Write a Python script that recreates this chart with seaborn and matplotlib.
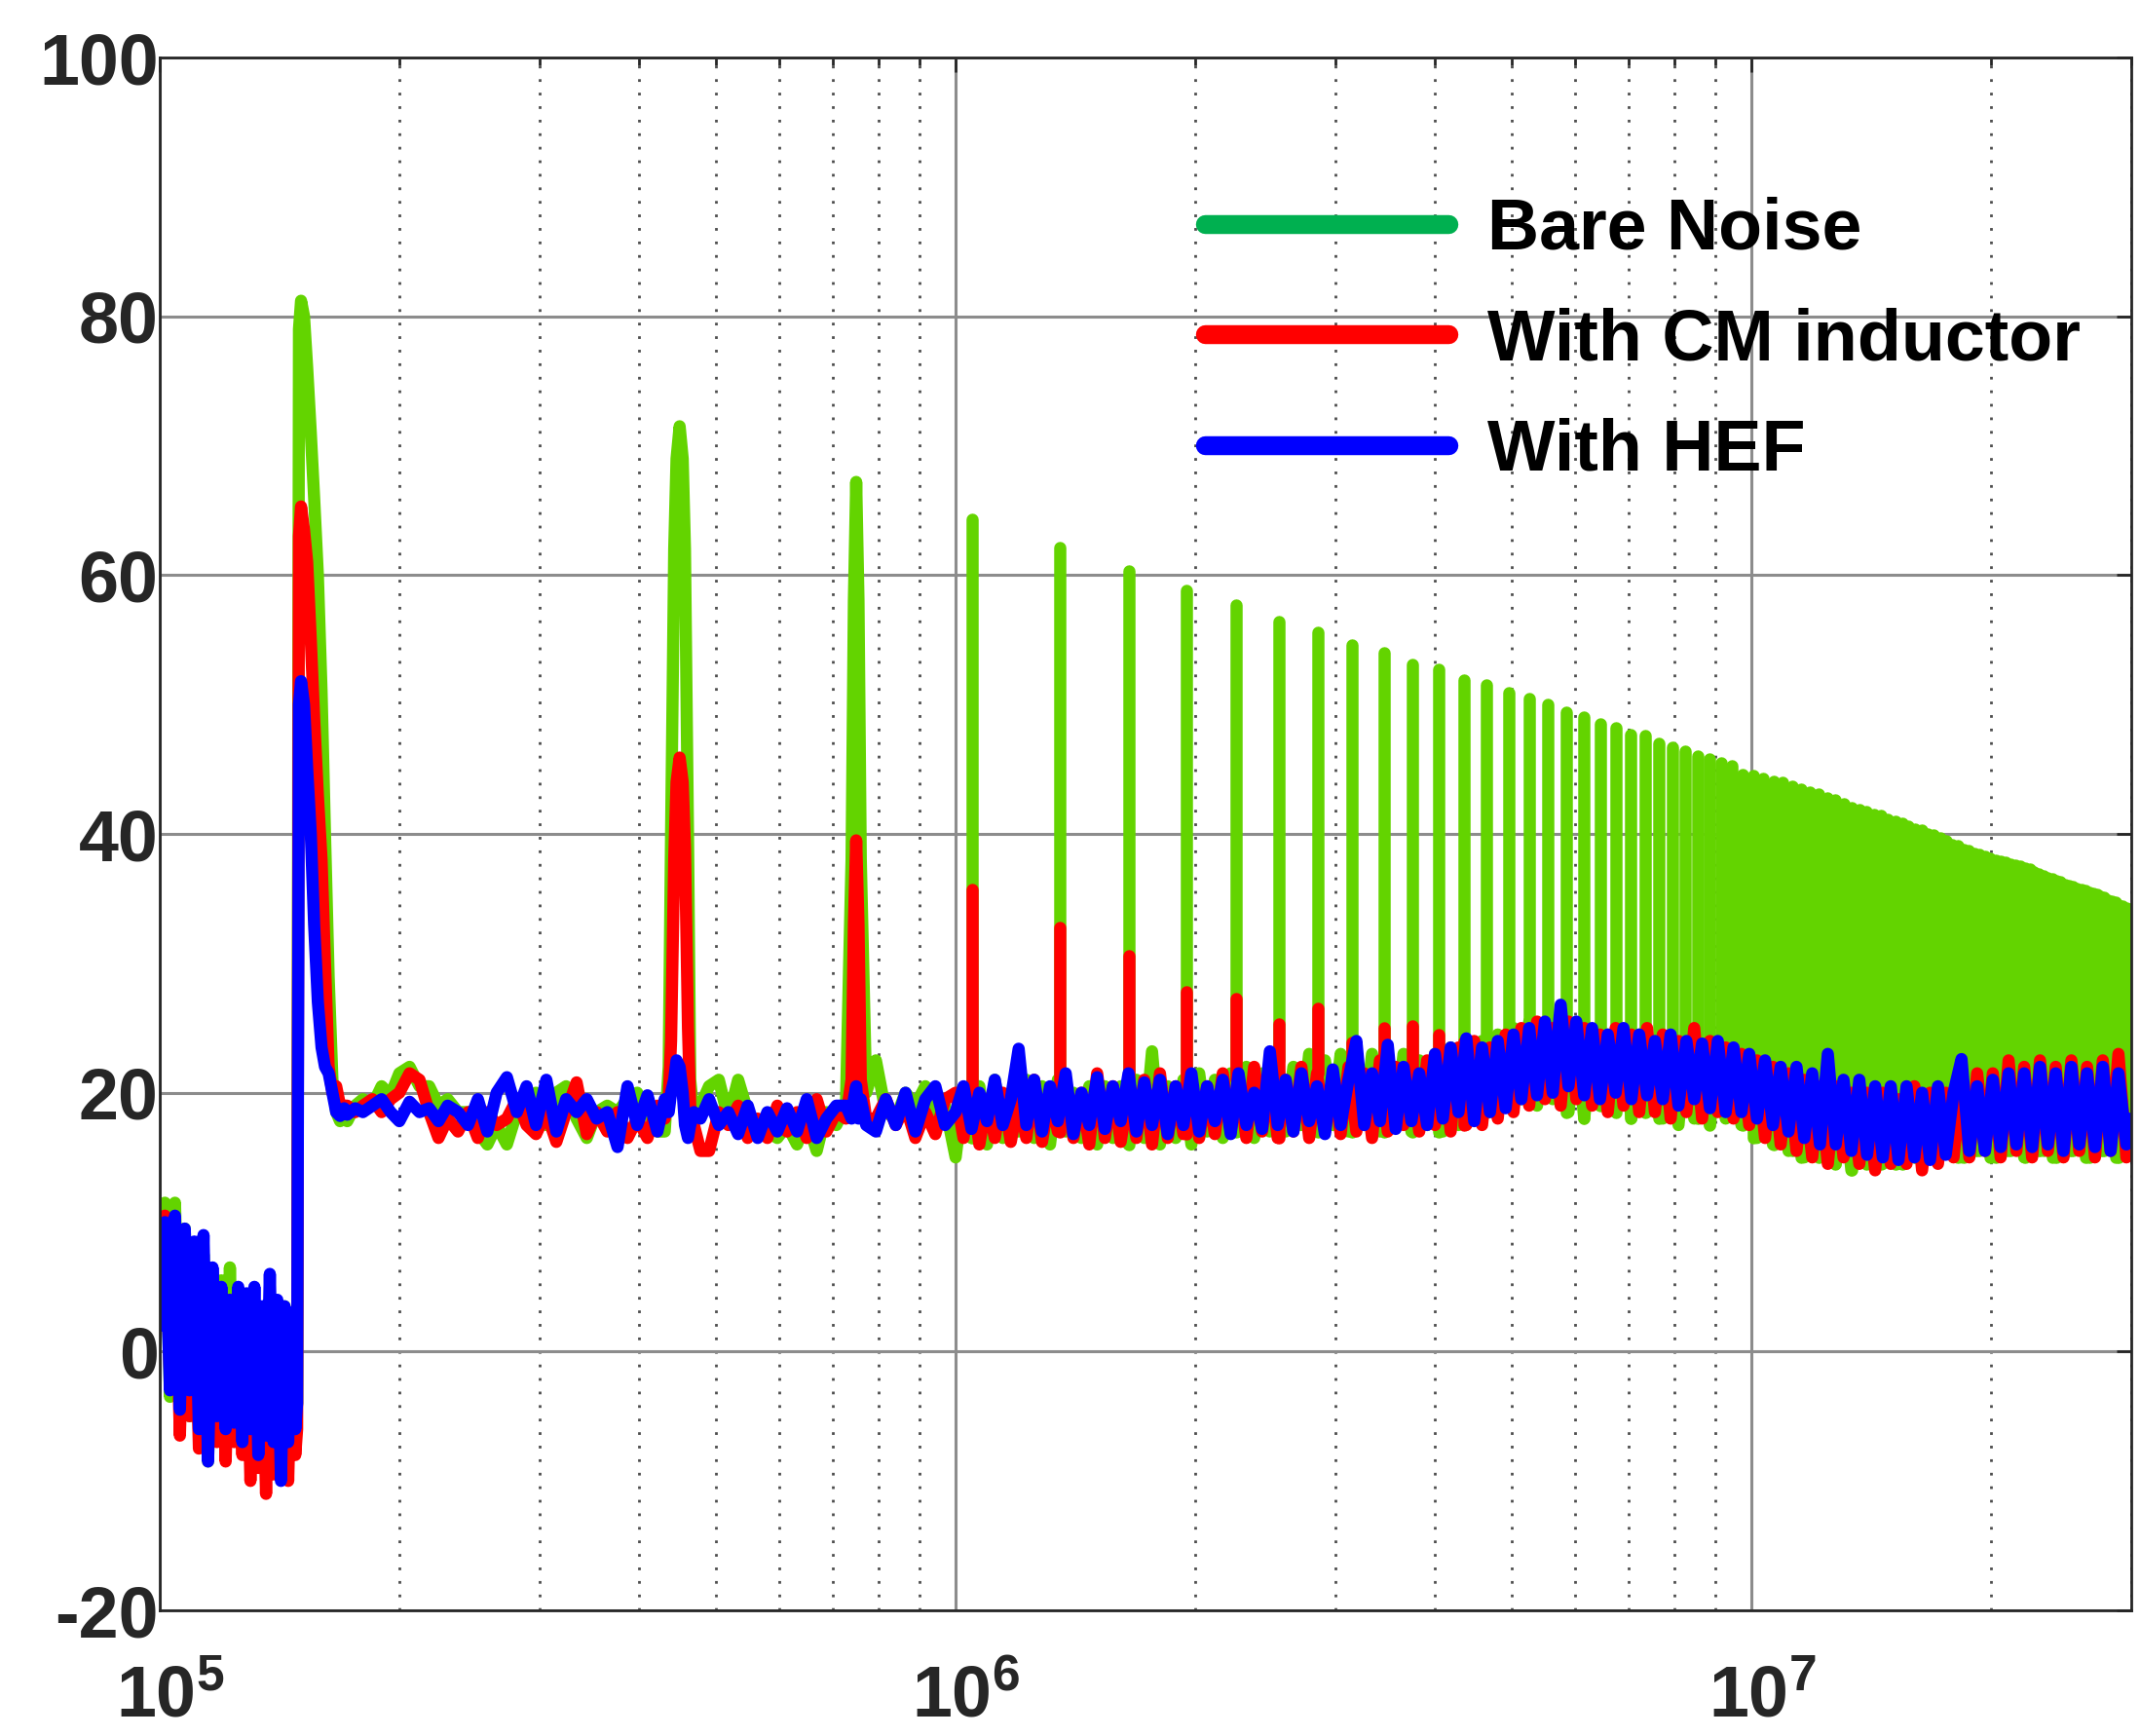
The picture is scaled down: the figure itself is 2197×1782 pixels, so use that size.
import numpy as np
import pandas as pd
import matplotlib
matplotlib.use('Agg')
import matplotlib.pyplot as plt
import matplotlib.transforms as mtransforms
from matplotlib.lines import Line2D
from matplotlib.ticker import FixedLocator, FixedFormatter, LogLocator, NullFormatter
import seaborn as sns

sns.set_theme(style="white")
plt.rcParams['font.family'] = ['Liberation Sans', 'DejaVu Sans']
plt.rcParams.update({
    'font.weight': 'bold',
    'axes.unicode_minus': False,
    'mathtext.fontset': 'custom',
    'mathtext.rm': 'Liberation Sans:bold',
    'mathtext.it': 'Liberation Sans:bold',
    'mathtext.bf': 'Liberation Sans:bold',
    'lines.solid_joinstyle': 'round',
    'lines.solid_capstyle': 'round',
})

# ---- data (dBuV) ----
series_names = ['Bare Noise', 'With CM inductor', 'With HEF']

# 100 - 170 kHz : noisy band below the switching frequency + the 150 kHz line
f_low_khz = [100.0, 101.5, 103.0, 104.5, 106.0, 107.5, 109.0, 110.5, 112.0, 113.5,
             115.0, 116.5, 118.0, 119.5, 121.0, 122.5, 124.0, 125.5, 127.0, 128.5,
             130.0, 131.5, 133.0, 134.5, 136.0, 137.5, 139.0, 140.5, 142.0, 143.5,
             145.0, 146.5, 148.0, 148.8, 149.6, 150.5, 151.8, 153.2, 154.8, 156.3,
             158.0, 159.7, 161.3, 163.0, 164.8, 166.6, 168.5, 170.5]
bare_low = [6, 11.5, -3.5, 11.5, -3, 9.5, -5, 8, -6, 7.5,
            -8.5, 6, -6, 5.5, -7, 6.5, -5, 4, -6, 4,
            -7, 3.5, -6, 3, -7, 4, -7, 3, -8, 3.5,
            -6, 2, -5, -4, 79, 81.2, 80, 76, 71, 66,
            60, 51, 40, 29, 21, 18.5, 17.8, 18.5]
cm_low = [4, 10.5, -2, 8, -6.5, 7, -5, 6, -7.5, 5,
          -6, 4, -7, 3, -8.5, 4, -7, 2.5, -8, 3,
          -10, 2, -9, 1, -11, 2, -9.5, 1.5, -9, 2.5,
          -10, 1, -8, -6, 63, 65.3, 63.5, 61, 55, 49,
          43, 38, 30, 22, 20, 20.5, 19, 19]
hef_low = [2, 10, -3, 10.5, -4.5, 9.5, -3, 8.5, -6, 9,
           -8.5, 6.5, -5, 5, -6, 4, -5.5, 5, -7, 4.5,
           -6, 5, -8, 3.5, -6.5, 6, -7, 4, -10, 3.5,
           -7, 3, -6, -4, 50, 51.8, 50, 45, 40, 33,
           27, 23.5, 22, 21.5, 20, 18.5, 18.2, 18.8]

# 172 - 970 kHz : floor with the 450 kHz and 750 kHz lines
f_mid_khz = [172, 176, 180, 185, 190, 195, 200, 206, 212, 218,
             224, 230, 237, 244, 251, 258, 265, 273, 281, 289,
             297, 306, 315, 324, 334, 344, 354, 365, 376, 387,
             398, 410, 422,
             431, 436, 439, 443, 446, 450, 454, 457, 461, 464, 469,
             478, 490, 504, 518, 533, 548, 564, 580, 597, 614,
             632, 650, 669, 688, 708, 728,
             740, 745, 750, 755, 760, 772,
             794, 817, 841, 865, 890, 916, 943, 970]
bare_mid = [17.8, 19.0, 19.5, 19.0, 20.5, 19.8, 21.5, 22.0, 20.5, 20.5,
            19.0, 19.5, 18.5, 18.5, 17.0, 16.0, 17.5, 16.0, 18.5, 19.5,
            20.0, 17.5, 20.0, 20.5, 18.0, 16.5, 18.5, 19.0, 18.5, 19.5,
            20.0, 18.5, 17.0,
            17.0, 22.0, 40.0, 62.0, 69.0, 71.5, 69.0, 62.0, 40.0, 21.0, 18.0,
            19.0, 20.5, 21.0, 18.0, 21.0, 18.5, 17.5, 17.0, 16.5, 17.5,
            16.0, 18.0, 15.5, 18.5, 17.5, 19.0,
            38.0, 58.0, 67.2, 58.0, 38.0, 20.0,
            22.5, 18.5, 18.0, 20.0, 19.0, 20.5, 17.5, 19.0]
cm_mid = [19.0, 18.5, 19.0, 19.5, 18.5, 19.5, 20.0, 21.5, 21.0, 18.5,
          16.5, 18.0, 17.0, 18.5, 16.5, 18.5, 17.5, 18.0, 19.5, 17.5,
          16.8, 18.5, 16.2, 18.5, 20.8, 16.8, 18.5, 17.0, 18.5, 16.5,
          18.0, 16.5, 19.0,
          18.0, 19.5, 24.0, 38.0, 44.0, 45.9, 44.0, 39.0, 25.0, 19.0, 17.5,
          15.5, 15.5, 18.5, 17.5, 19.0, 16.5, 18.0, 16.5, 19.0, 17.0,
          18.5, 16.5, 19.5, 17.0, 18.5, 18.0,
          21.0, 33.0, 39.5, 33.0, 21.0, 18.0,
          18.0, 19.5, 17.5, 19.0, 16.5, 18.5, 16.8, 19.5]
hef_mid = [18.3, 18.8, 18.5, 19.0, 19.5, 18.5, 17.8, 19.3, 18.5, 18.8,
           17.8, 19.0, 18.5, 17.5, 19.5, 17.0, 20.0, 21.2, 18.5, 20.5,
           17.5, 21.0, 17.0, 19.5, 18.5, 19.5, 18.0, 18.5, 15.8, 20.5,
           17.5, 19.8, 17.0,
           19.5, 18.5, 20.0, 21.0, 22.5, 22.0, 20.0, 17.5, 16.5, 17.5, 18.5,
           18.0, 19.5, 17.5, 18.5, 16.8, 19.0, 16.5, 18.5, 17.0, 18.8,
           17.0, 19.5, 16.5, 18.0, 19.0, 19.0,
           18.0, 19.5, 20.5, 18.0, 19.5, 17.5,
           17.0, 19.5, 17.5, 20.0, 17.0, 19.5, 20.5, 17.5]

# 1 - 30 MHz : noise floor
f_high_mhz = [1.000, 1.023, 1.047, 1.071, 1.095, 1.120, 1.146, 1.173, 1.200, 1.227,
              1.255, 1.284, 1.314, 1.344, 1.375, 1.406, 1.439, 1.472, 1.506, 1.540,
              1.576, 1.612, 1.649, 1.687, 1.726, 1.765, 1.806, 1.847, 1.890, 1.933,
              1.978, 2.023, 2.070, 2.117, 2.166, 2.216, 2.267, 2.319, 2.372, 2.427,
              2.482, 2.539, 2.598, 2.657, 2.719, 2.781, 2.845, 2.911, 2.978, 3.046,
              3.116, 3.188, 3.261, 3.336, 3.413, 3.491, 3.572, 3.654, 3.738, 3.824,
              3.912, 4.002, 4.094, 4.188, 4.284, 4.382, 4.483, 4.586, 4.692, 4.799,
              4.910, 5.023, 5.138, 5.256, 5.377, 5.501, 5.627, 5.757, 5.889, 6.024,
              6.163, 6.305, 6.450, 6.598, 6.750, 6.905, 7.064, 7.226, 7.392, 7.562,
              7.736, 7.914, 8.096, 8.283, 8.473, 8.668, 8.867, 9.071, 9.280, 9.493,
              9.712, 9.935, 10.16, 10.40, 10.64, 10.88, 11.13, 11.39, 11.65, 11.92,
              12.19, 12.47, 12.76, 13.05, 13.35, 13.66, 13.97, 14.30, 14.62, 14.96,
              15.30, 15.66, 16.02, 16.38, 16.76, 17.15, 17.54, 17.94, 18.36, 18.78,
              19.21, 19.65, 20.10, 20.56, 21.04, 21.52, 22.01, 22.52, 23.04, 23.57,
              24.11, 24.66, 25.23, 25.81, 26.40, 27.01, 27.63, 28.26, 28.91, 29.58,
              30.0]
bare_high = [15.0, 20.0, 16.5, 20.5, 16.0, 21.0, 16.5, 20.0, 17.0, 21.0,
             16.5, 20.5, 16.0, 21.0, 17.0, 20.0, 16.5, 20.5, 16.0, 20.5,
             16.5, 20.5, 16.0, 21.0, 16.5, 23.2, 16.0, 20.5, 16.5, 21.0,
             16.0, 21.5, 17.0, 21.0, 16.5, 21.5, 17.0, 22.0, 16.5, 21.5,
             17.0, 22.5, 17.0, 22.0, 17.5, 23.0, 17.0, 22.5, 17.5, 23.0,
             17.0, 22.0, 17.5, 23.0, 17.0, 22.5, 17.5, 23.0, 17.0, 22.5,
             17.5, 23.0, 17.0, 23.5, 17.5, 23.0, 18.0, 24.0, 18.5, 24.5,
             19.0, 25.0, 19.5, 25.5, 19.0, 24.5, 19.5, 25.0, 18.5, 24.5,
             18.0, 24.0, 19.0, 24.5, 18.5, 24.0, 18.0, 24.5, 18.5, 23.5,
             18.0, 23.5, 17.5, 24.0, 18.0, 23.0, 17.5, 23.5, 18.0, 23.0,
             17.5, 22.5, 16.5, 22.0, 16.0, 21.5, 15.5, 21.0, 15.0, 20.5,
             15.0, 20.0, 14.5, 20.0, 14.0, 19.5, 14.5, 20.0, 14.5, 19.5,
             14.5, 20.0, 15.0, 20.5, 15.0, 20.0, 15.5, 21.0, 15.0, 21.0,
             15.5, 21.5, 15.0, 22.0, 15.5, 21.5, 15.0, 22.0, 15.5, 21.5,
             15.0, 22.0, 15.5, 21.5, 15.0, 22.0, 15.5, 21.5, 15.0, 22.0,
             18.0]
cm_high = [20.0, 16.5, 20.5, 16.0, 19.5, 16.5, 20.0, 16.2, 19.5, 16.5,
           21.0, 16.2, 20.0, 17.0, 21.0, 16.5, 20.0, 16.0, 21.5, 16.5,
           20.5, 16.2, 20.0, 16.5, 21.0, 16.0, 21.5, 16.5, 20.5, 16.8,
           21.0, 16.5, 20.5, 16.8, 21.5, 17.0, 21.0, 16.5, 22.0, 17.0,
           21.5, 16.5, 21.0, 17.0, 22.0, 16.5, 21.5, 17.0, 21.0, 16.8,
           22.0, 17.0, 21.5, 16.5, 22.5, 17.0, 22.0, 17.5, 21.5, 17.0,
           22.5, 17.5, 23.0, 17.0, 23.5, 17.5, 24.0, 17.5, 23.5, 18.0,
           24.5, 18.5, 25.0, 19.0, 25.5, 19.5, 25.0, 19.0, 25.5, 19.5,
           25.0, 19.0, 24.5, 18.5, 25.0, 19.0, 24.5, 18.5, 25.0, 18.5,
           24.5, 18.0, 24.0, 18.5, 25.0, 18.0, 24.0, 18.5, 23.5, 18.0,
           23.0, 17.5, 22.5, 16.5, 22.0, 16.0, 21.5, 15.5, 21.0, 15.0,
           20.5, 14.5, 20.5, 15.0, 20.0, 14.5, 20.0, 14.0, 20.0, 14.5,
           19.5, 14.5, 20.5, 14.0, 20.0, 14.5, 20.0, 15.0, 21.0, 15.0,
           21.5, 15.5, 21.5, 15.0, 22.5, 15.5, 22.0, 15.0, 22.5, 15.5,
           22.0, 15.0, 22.5, 15.5, 22.0, 15.0, 22.5, 15.5, 23.0, 15.0,
           16.0]
hef_high = [18.5, 20.5, 17.2, 20.0, 17.8, 21.0, 17.5, 19.5, 23.4, 17.5,
            21.0, 17.0, 20.5, 17.8, 21.5, 16.8, 20.0, 17.5, 21.2, 17.2,
            20.5, 17.8, 21.5, 17.0, 20.8, 17.5, 21.0, 16.8, 20.5, 17.5,
            21.5, 17.0, 20.5, 17.8, 21.0, 16.8, 21.5, 17.5, 20.0, 17.2,
            23.2, 17.5, 21.0, 17.0, 21.5, 17.8, 20.5, 16.8, 21.8, 17.5,
            21.0, 24.0, 17.5, 21.5, 17.8, 23.7, 17.2, 22.0, 17.8, 21.5,
            17.5, 23.0, 18.0, 23.5, 18.5, 24.2, 17.8, 23.5, 18.5, 24.0,
            18.8, 24.5, 19.5, 25.0, 19.8, 25.5, 20.0, 26.8, 20.5, 25.5,
            19.8, 25.0, 19.5, 24.5, 20.0, 25.0, 19.5, 24.5, 19.8, 24.0,
            19.5, 24.5, 19.0, 24.0, 19.5, 23.8, 18.8, 24.0, 18.5, 23.5,
            18.5, 23.0, 18.0, 22.5, 17.5, 22.0, 17.0, 22.0, 16.5, 21.5,
            16.0, 23.0, 16.0, 21.0, 15.5, 21.0, 15.2, 20.5, 15.0, 20.5,
            14.8, 20.5, 15.0, 20.0, 14.8, 20.5, 15.2, 20.0, 22.6, 15.5,
            20.5, 15.5, 21.0, 15.8, 21.5, 16.0, 21.5, 15.8, 22.0, 16.0,
            21.5, 15.5, 22.0, 16.0, 21.5, 15.8, 22.0, 15.5, 21.5, 16.0,
            18.0]

# odd harmonics of the 150 kHz switching frequency above 1 MHz (narrow lines)
harmonic_mhz = [1.05, 1.35, 1.65, 1.95, 2.25, 2.55, 2.85, 3.15, 3.45, 3.75,
                4.05, 4.35, 4.65, 4.95, 5.25, 5.55, 5.85, 6.15, 6.45, 6.75,
                7.05, 7.35, 7.65, 7.95, 8.25, 8.55, 8.85, 9.15, 9.45, 9.75,
                10.05, 10.35, 10.65, 10.95, 11.25, 11.55, 11.85, 12.15, 12.45, 12.75,
                13.05, 13.35, 13.65, 13.95, 14.25, 14.55, 14.85, 15.15, 15.45, 15.75,
                16.05, 16.35, 16.65, 16.95, 17.25, 17.55, 17.85, 18.15, 18.45, 18.75,
                19.05, 19.35, 19.65, 19.95, 20.25, 20.55, 20.85, 21.15, 21.45, 21.75,
                22.05, 22.35, 22.65, 22.95, 23.25, 23.55, 23.85, 24.15, 24.45, 24.75,
                25.05, 25.35, 25.65, 25.95, 26.25, 26.55, 26.85, 27.15, 27.45, 27.75,
                28.05, 28.35, 28.65, 28.95, 29.25, 29.55, 29.85]
bare_peaks = [64.3, 62.1, 60.3, 58.8, 57.7, 56.4, 55.6, 54.6, 54.0, 53.1,
              52.7, 51.9, 51.5, 50.9, 50.5, 50.0, 49.4, 49.0, 48.5, 48.2,
              47.7, 47.6, 47.0, 46.7, 46.4, 46.0, 45.8, 45.5, 45.3, 44.6,
              44.5, 44.3, 44.1, 44.0, 43.7, 43.5, 43.2, 43.1, 42.8, 42.6,
              42.3, 42.0, 41.9, 41.7, 41.5, 41.4, 41.1, 41.0, 40.8, 40.6,
              40.4, 40.3, 40.0, 39.9, 39.7, 39.5, 39.2, 39.1, 38.8, 38.7,
              38.5, 38.4, 38.3, 38.1, 38.0, 37.9, 37.8, 37.7, 37.6, 37.5,
              37.4, 37.3, 37.1, 36.9, 36.8, 36.6, 36.5, 36.4, 36.3, 36.1,
              36.0, 35.9, 35.8, 35.7, 35.6, 35.5, 35.4, 35.3, 35.2, 35.1,
              34.9, 34.8, 34.7, 34.5, 34.4, 34.3, 34.2]
cm_peaks = [35.7, 32.8, 30.6, 27.8, 27.3, 25.3, 26.5, 23.9, 25.0, 25.2, 24.5, 24.0]

trace_colors = ['#63d400', '#ff0000', '#0000ff']
legend_colors = ['#00b050', '#ff0000', '#0000ff']
LW = 9.0

freq_hz = np.concatenate([np.array(f_low_khz) * 1e3,
                          np.array(f_mid_khz) * 1e3,
                          np.array(f_high_mhz) * 1e6])
levels = {
    'Bare Noise': np.concatenate([bare_low, bare_mid, bare_high]),
    'With CM inductor': np.concatenate([cm_low, cm_mid, cm_high]),
    'With HEF': np.concatenate([hef_low, hef_mid, hef_high]),
}
df = pd.concat([pd.DataFrame({'freq': freq_hz, 'level': levels[s], 'series': s})
                for s in series_names], ignore_index=True)
harm_hz = np.array(harmonic_mhz) * 1e6


def spike_base(h, lev):
    # floor under each line = nearest measured floor sample
    idx = np.abs(np.log(freq_hz)[:, None] - np.log(h)[None, :]).argmin(axis=0)
    return lev[idx]


fig = plt.figure(figsize=(21.97, 17.82), dpi=100)
ax = fig.add_axes([0.07465, 0.07239, 0.92126, 0.8945])
ax.set_xscale('log')

spikes = {'Bare Noise': bare_peaks, 'With CM inductor': cm_peaks}
for name, col in zip(series_names, trace_colors):
    sub = df[df.series == name]
    sns.lineplot(data=sub, x='freq', y='level', color=col, linewidth=LW,
                 estimator=None, sort=False, ax=ax, legend=False)
    if name in spikes:
        pk = np.array(spikes[name])
        h = harm_hz[:len(pk)]
        ax.vlines(h, spike_base(h, levels[name]), pk, colors=col,
                  linewidth=LW, capstyle='round')

ax.set_xlim(1e5, 3e7)
ax.set_ylim(-20, 100)
ax.set_yticks(range(-20, 101, 20))
ax.xaxis.set_major_locator(FixedLocator([1e5, 1e6, 1e7]))
ax.xaxis.set_major_formatter(FixedFormatter([r'$10^{5}$', r'$10^{6}$', r'$10^{7}$']))
ax.xaxis.set_minor_locator(LogLocator(base=10, subs=np.arange(2, 10), numticks=20))
ax.xaxis.set_minor_formatter(NullFormatter())
ax.set_xlabel('')
ax.set_ylabel('')

ax.set_axisbelow(True)
ax.grid(True, which='major', color='#8c8c8c', lw=2.2, ls='-')
ax.grid(True, which='minor', axis='x', color='#4d4d4d', lw=2.0, ls=(0, (1, 4)))

ax.tick_params(which='both', direction='in', top=True, right=True,
               color='#262626', width=2)
ax.tick_params(which='major', length=11)
ax.tick_params(which='minor', length=6)
ax.tick_params(axis='y', labelsize=53, labelcolor='#262626', pad=1)
ax.tick_params(axis='x', labelsize=53, labelcolor='#262626', pad=40)
for sp in ax.spines.values():
    sp.set_linewidth(2.0)
    sp.set_color('#262626')

shift = mtransforms.ScaledTranslation(11 / 100, 0, fig.dpi_scale_trans)
for lbl in ax.get_xticklabels():
    lbl.set_transform(lbl.get_transform() + shift)

handles = [Line2D([], [], color=c, lw=14, solid_capstyle='round') for c in legend_colors]
leg = ax.legend(handles, series_names, loc='upper left', bbox_to_anchor=(0.530, 0.9103),
                frameon=False, fontsize=53, handlelength=3.4, handletextpad=0.55,
                labelspacing=0.6, borderpad=0, borderaxespad=0)
for t in leg.get_texts():
    t.set_color('black')
    t.set_fontweight('bold')

fig.savefig('out.png', dpi=100)
